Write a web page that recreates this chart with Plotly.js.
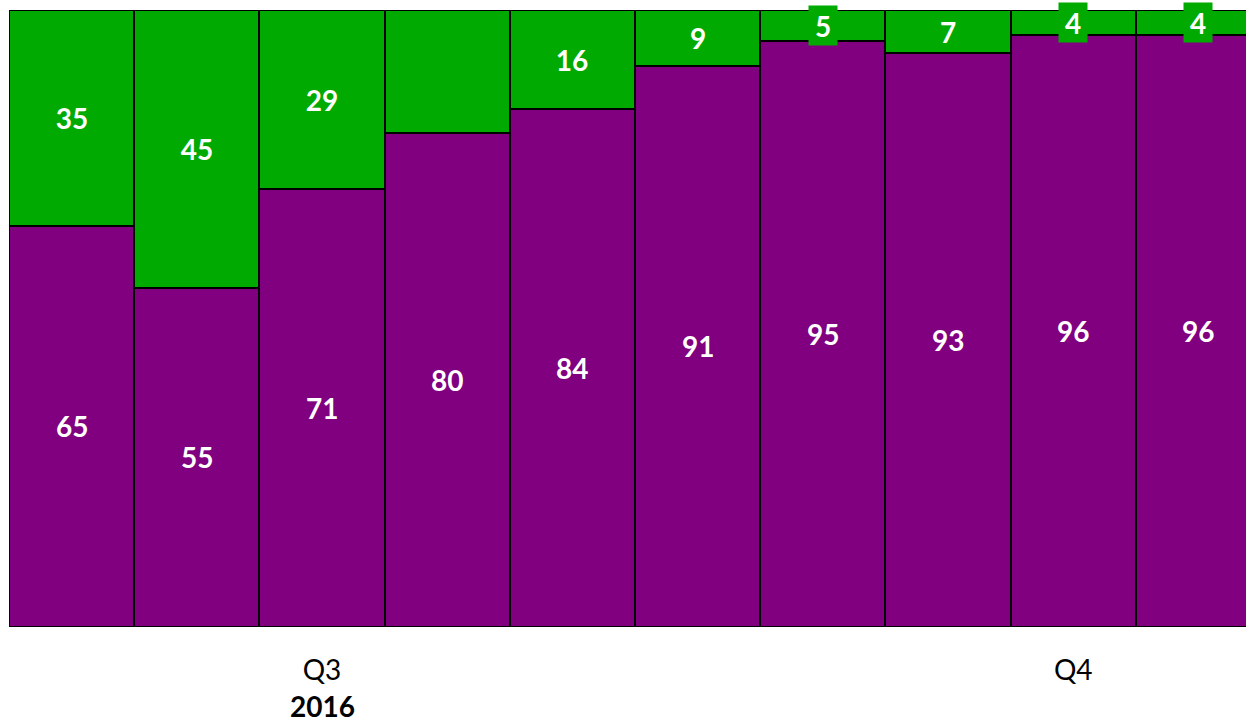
<!DOCTYPE html>
<html>
<head>
<meta charset="utf-8">
<script src="https://cdn.plot.ly/plotly-3.0.1.min.js"></script>
<style>
html,body{margin:0;padding:0;background:#fff;}
#chart{width:1246px;height:724px;}
</style>
</head>
<body>
<div id="chart"></div>
<script>
// Data (100% stacked shares)
var positions = [0, 1, 2, 3, 4, 5, 6, 7, 8, 9];
var purpleValues = [65, 55, 71, 80, 84, 91, 95, 93, 96, 96];
var greenValues  = [35, 45, 29, 20, 16, 9, 5, 7, 4, 4];
var greenShown   = [true, true, true, false, true, true, true, true, true, true];
var tickPositions = [2, 8];
var tickLabels = ['Q3', 'Q4'];
var yearLabel = '2016';
var yearPosition = 2;

var PURPLE = '#800080';
var GREEN = '#00AA00';
var FONT = 'Lato, "Open Sans", sans-serif';

var traces = [
  {
    type: 'bar', x: positions, y: purpleValues, name: 'purple',
    marker: {color: PURPLE, line: {color: '#000', width: 2}},
    hoverinfo: 'none'
  },
  {
    type: 'bar', x: positions, y: greenValues, name: 'green',
    marker: {color: GREEN, line: {color: '#000', width: 2}},
    hoverinfo: 'none'
  }
];

var annotations = [];
positions.forEach(function (p, i) {
  annotations.push({
    x: p, y: purpleValues[i] / 2, xref: 'x', yref: 'y',
    text: '<b>' + purpleValues[i] + '</b>', showarrow: false,
    font: {family: FONT, size: 28, color: '#fff'}
  });
  if (greenShown[i]) {
    annotations.push({
      x: p, y: purpleValues[i] + greenValues[i] / 2, xref: 'x', yref: 'y',
      text: '<b>' + greenValues[i] + '</b>', showarrow: false,
      bgcolor: GREEN, width: String(greenValues[i]).length > 1 ? 36 : 26, height: 37,
      font: {family: FONT, size: 28, color: '#fff'}
    });
  }
});
annotations.push({
  x: yearPosition, y: 0, xref: 'x', yref: 'paper', yshift: -79,
  text: '<b>' + yearLabel + '</b>', showarrow: false, yanchor: 'middle',
  font: {family: FONT, size: 28, color: '#000'}
});

var layout = {
  width: 1246, height: 724,
  margin: {l: 9, r: 0, t: 10, b: 97, pad: 0},
  paper_bgcolor: '#fff', plot_bgcolor: '#fff',
  barmode: 'stack', bargap: 0,
  showlegend: false,
  xaxis: {
    range: [-0.5, 9.38], tickmode: 'array', tickvals: tickPositions, ticktext: tickLabels,
    showgrid: false, zeroline: false, showline: false, ticks: '',
    ticklabelstandoff: 24,
    tickfont: {family: FONT, size: 28, color: '#000'}, fixedrange: true
  },
  yaxis: {
    range: [0, 100], visible: false, showgrid: false, zeroline: false, fixedrange: true
  },
  annotations: annotations
};

Plotly.newPlot('chart', traces, layout, {displayModeBar: false, staticPlot: true});
</script>
</body>
</html>
